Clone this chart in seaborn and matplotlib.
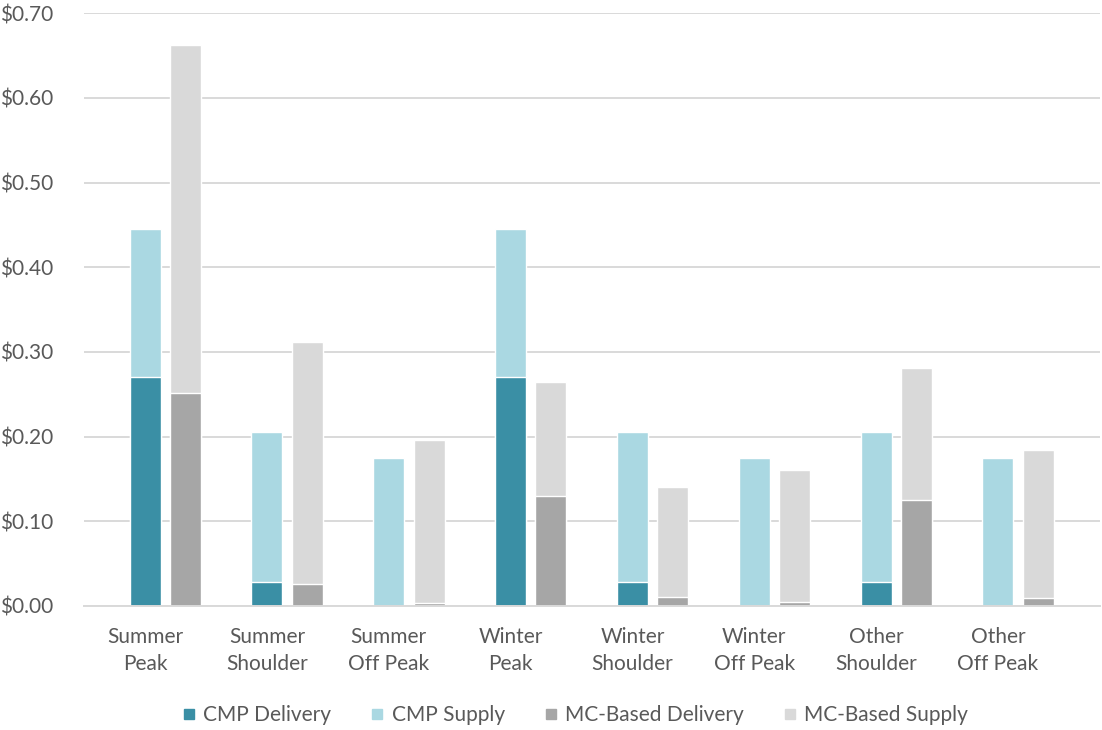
import matplotlib
matplotlib.use("Agg")
import matplotlib.pyplot as plt
from matplotlib.lines import Line2D
from matplotlib.ticker import FuncFormatter, MultipleLocator
import numpy as np
import pandas as pd
import seaborn as sns

# Rate components per time-of-use period ($/kWh)
categories = ["Summer\nPeak", "Summer\nShoulder", "Summer\nOff Peak",
              "Winter\nPeak", "Winter\nShoulder", "Winter\nOff Peak",
              "Other\nShoulder", "Other\nOff Peak"]
cmp_delivery = [0.270, 0.028, 0.000, 0.270, 0.028, 0.000, 0.028, 0.000]
cmp_supply = [0.175, 0.177, 0.175, 0.175, 0.177, 0.175, 0.177, 0.175]
mc_delivery = [0.251, 0.026, 0.003, 0.130, 0.011, 0.005, 0.125, 0.010]
mc_supply = [0.412, 0.286, 0.193, 0.134, 0.130, 0.156, 0.156, 0.174]

schemes = ["CMP", "MC-Based"]
legend_labels = ["CMP Delivery", "CMP Supply", "MC-Based Delivery", "MC-Based Supply"]

delivery_colors = {"CMP": "#3A8FA5", "MC-Based": "#A6A6A6"}
supply_colors = {"CMP": "#AAD8E2", "MC-Based": "#D9D9D9"}
text_color = "#595959"
grid_color = "#D9D9D9"

rows = []
for i, cat in enumerate(categories):
    rows.append({"period": cat, "scheme": "CMP",
                 "delivery": cmp_delivery[i],
                 "total": cmp_delivery[i] + cmp_supply[i]})
    rows.append({"period": cat, "scheme": "MC-Based",
                 "delivery": mc_delivery[i],
                 "total": mc_delivery[i] + mc_supply[i]})
df = pd.DataFrame(rows)

sns.set_theme(style="white")
plt.rcParams["font.family"] = ["Lato", "DejaVu Sans"]

fig = plt.figure(figsize=(11.02, 7.30), dpi=100)
ax = fig.add_axes([84 / 1102, 1 - 606 / 730, (1100 - 84) / 1102, (606 - 13.3) / 730])

bar_kw = dict(x="period", hue="scheme", hue_order=schemes, order=categories,
              width=0.662, gap=0.23, dodge=True, saturation=1.0,
              errorbar=None, edgecolor="white", linewidth=1.0, legend=False, ax=ax)

# Full stack height first (supply colour), then the delivery part in front
sns.barplot(data=df, y="total", palette=supply_colors, **bar_kw)
sns.barplot(data=df, y="delivery", palette=delivery_colors, **bar_kw)

# Axis styling
ax.set_ylim(0, 0.70)
ax.yaxis.set_major_locator(MultipleLocator(0.10))
ax.yaxis.set_major_formatter(FuncFormatter(lambda v, _: f"${v:.2f}"))
ax.set_axisbelow(True)
ax.yaxis.grid(True, color=grid_color, linewidth=1.4)
ax.xaxis.grid(False)
for side in ["top", "right", "left"]:
    ax.spines[side].set_visible(False)
ax.spines["bottom"].set_color(grid_color)
ax.spines["bottom"].set_linewidth(1.4)

# Category labels sit under the first bar of each pair
offset = 0.1655
ax.set_xticks(np.arange(len(categories)) - offset)
ax.set_xticklabels(categories, linespacing=1.45)
ax.set_xlim(-offset - 0.501, 7 - offset + 0.838)
ax.tick_params(axis="x", length=0, pad=15, labelsize=15, labelcolor=text_color)
ax.tick_params(axis="y", length=0, pad=22, labelsize=15, labelcolor=text_color)
ax.set_xlabel("")
ax.set_ylabel("")

handles = [
    Line2D([], [], marker="s", linestyle="", markersize=7, color=delivery_colors["CMP"]),
    Line2D([], [], marker="s", linestyle="", markersize=7, color=supply_colors["CMP"]),
    Line2D([], [], marker="s", linestyle="", markersize=7, color=delivery_colors["MC-Based"]),
    Line2D([], [], marker="s", linestyle="", markersize=7, color=supply_colors["MC-Based"]),
]
fig.legend(handles, legend_labels, loc="center", bbox_to_anchor=(0.522, 0.02),
           ncol=4, frameon=False, fontsize=15, labelcolor=text_color,
           handlelength=0.6, handletextpad=0.4, columnspacing=1.9)

fig.savefig("out.png", dpi=100)
